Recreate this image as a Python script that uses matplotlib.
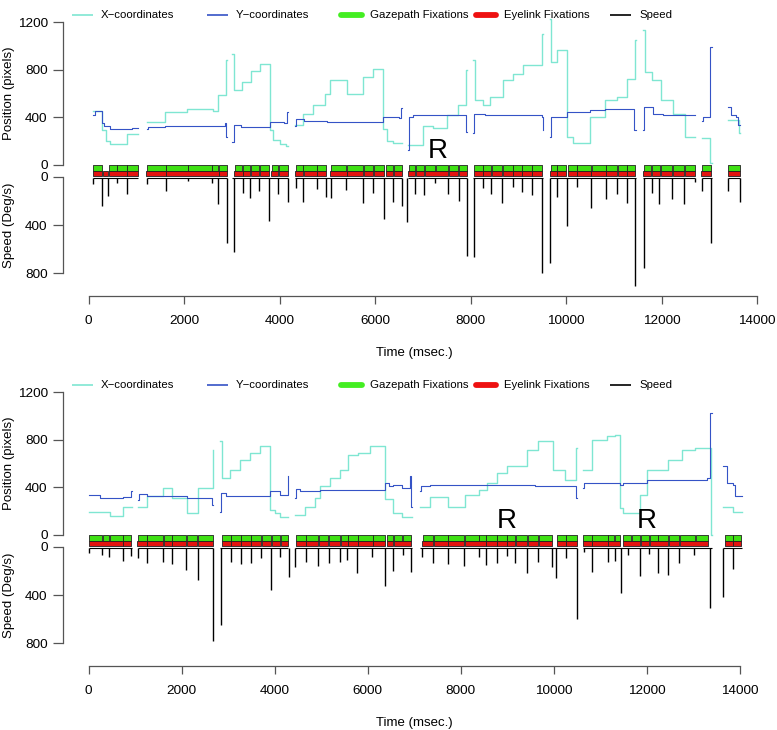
import matplotlib.pyplot as plt

plt.rcParams['font.family'] = ['Liberation Sans', 'DejaVu Sans']

CYAN = '#7fe6d2'
BLUE = '#3553c6'
GREEN = '#3fe014'
RED = '#e3140f'

time_ticks = [0, 2000, 4000, 6000, 8000, 10000, 12000, 14000]
pos_ticks = [0, 400, 800, 1200]
speed_ticks = [0, 400, 800]
legend_labels = ['X\u2212coordinates', 'Y\u2212coordinates', 'Gazepath Fixations',
                 'Eyelink Fixations', 'Speed']

# ---------------- top recording ----------------
# x-coordinate traces, one list per stretch of data: (time ms, pixels)
top_x = [
    [(97, 455), (272, 290), (370, 205), (446, 178), (795, 262), (1040, 262)],
    [(1214, 365), (1598, 445), (2052, 470), (2600, 450), (2715, 590), (2880, 880), (2900, 880)],
    [(3010, 935), (3050, 630), (3220, 700), (3390, 790), (3580, 850), (3800, 290),
     (3850, 210), (4000, 180), (4130, 160), (4180, 160)],
    [(4320, 335), (4480, 430), (4703, 500), (4948, 600), (5053, 712), (5402, 600),
     (5750, 740), (5960, 810), (6169, 300), (6240, 200), (6380, 181), (6554, 181)],
    [(6680, 167), (7007, 328), (7217, 307), (7496, 418), (7741, 502), (7905, 795), (7922, 795)],
    [(8050, 880), (8080, 544), (8264, 502), (8404, 572), (8683, 712), (8892, 767),
     (9102, 837), (9500, 1102), (9521, 1102)],
    [(9660, 1228), (9680, 866), (9800, 963), (10009, 237), (10150, 181), (10497, 404),
     (10811, 544), (11056, 572), (11266, 726), (11440, 1046), (11460, 1046)],
    [(11615, 1130), (11650, 781), (11790, 712), (11980, 544), (12240, 432), (12490, 237),
     (12697, 237)],
    [(12836, 223), (13020, 14), (13045, 14)],
    [(13394, 377), (13620, 265), (13638, 265)],
]
top_y = [
    [(97, 420), (130, 455), (272, 355), (320, 325), (450, 305), (700, 300), (900, 310), (1040, 310)],
    [(1214, 300), (1240, 321), (1600, 330), (2200, 325), (2600, 330), (2860, 350),
     (2885, 237), (2900, 237)],
    [(3010, 195), (3050, 335), (3200, 321), (3800, 363), (4100, 350), (4160, 446), (4180, 446)],
    [(4320, 330), (4340, 385), (4500, 370), (5000, 360), (5800, 360), (6169, 400),
     (6500, 396), (6540, 479), (6554, 479)],
    [(6680, 125), (6700, 404), (6800, 418), (7900, 418), (7905, 279), (7922, 279)],
    [(8050, 265), (8070, 432), (8300, 418), (9500, 404), (9505, 293), (9521, 293)],
    [(9660, 237), (9680, 404), (10009, 446), (10497, 460), (10811, 474), (11266, 474),
     (11430, 293), (11460, 293)],
    [(11615, 293), (11630, 488), (11824, 432), (12033, 418), (12697, 418)],
    [(12836, 370), (12860, 404), (13020, 991), (13045, 991)],
    [(13394, 488), (13450, 418), (13550, 404), (13600, 335), (13638, 335)],
]
top_gaze = [(97, 272), (432, 600), (600, 795), (809, 1040), (1228, 1612), (1612, 2087),
            (2087, 2590), (2590, 2715), (2729, 2889), (3064, 3204), (3224, 3378),
            (3392, 3574), (3587, 3769), (3832, 3972), (3992, 4181), (4341, 4481),
            (4495, 4774), (4788, 4962), (5067, 5388), (5402, 5751), (5765, 5960),
            (5974, 6190), (6226, 6379), (6393, 6554), (6714, 6833), (6847, 7028),
            (7042, 7252), (7266, 7531), (7545, 7740), (7754, 7915), (8075, 8250),
            (8264, 8424), (8438, 8662), (8676, 8878), (8892, 9067), (9080, 9276),
            (9290, 9499), (9674, 9799), (9813, 9988), (10044, 10218), (10232, 10511),
            (10546, 10825), (10839, 11070), (11084, 11265), (11279, 11440),
            (11628, 11775), (11789, 11963), (11977, 12221), (12235, 12473),
            (12487, 12696), (12836, 13024), (13394, 13638)]
top_eyelink = [(97, 272), (307, 412), (432, 795), (809, 1040), (1193, 1612), (1626, 2729),
               (2729, 2889), (3050, 3224), (3238, 3378), (3392, 3574), (3587, 3769),
               (3818, 3972), (3992, 4181), (4320, 4495), (4509, 4774), (4788, 4962),
               (5053, 5402), (5402, 5751), (5765, 5960), (5974, 6190), (6226, 6379),
               (6393, 6554), (6693, 6833), (6847, 7028), (7042, 7531), (7545, 7740),
               (7754, 7915), (8075, 8250), (8264, 8424), (8438, 8662), (8676, 8878),
               (8892, 9067), (9080, 9276), (9290, 9499), (9660, 9799), (9813, 9988),
               (10044, 10218), (10232, 10511), (10525, 10825), (10839, 11070),
               (11084, 11265), (11279, 11440), (11615, 11775), (11789, 11963),
               (11977, 12221), (12235, 12473), (12487, 12696), (12815, 13024),
               (13380, 13638)]
top_spikes = [(97, 61), (279, 242), (410, 160), (585, 55), (810, 143), (1214, 60),
              (1611, 116), (2087, 33), (2576, 55), (2715, 229), (2903, 547), (3042, 621),
              (3224, 138), (3378, 174), (3573, 116), (3782, 367), (3957, 146), (4180, 212),
              (4334, 91), (4494, 207), (4773, 102), (4969, 171), (5074, 180), (5388, 110),
              (5750, 220), (5960, 132), (6190, 353), (6379, 212), (6554, 240), (6672, 372),
              (6833, 146), (7021, 152), (7252, 55), (7531, 146), (7754, 198), (7922, 657),
              (8069, 668), (8264, 96), (8425, 143), (8662, 220), (8892, 83), (9067, 130),
              (9290, 152), (9500, 795), (9660, 712), (9800, 166), (10009, 406),
              (10218, 83), (10511, 262), (10825, 188), (11070, 143), (11266, 220),
              (11447, 905), (11629, 753), (11789, 132), (11950, 229), (12222, 188),
              (12473, 226), (12697, 47), (12836, 119), (13024, 552), (13380, 116),
              (13638, 212)]
top_r_marks = [7300]

# ---------------- bottom recording ----------------
bot_x = [
    [(0, 189), (458, 161), (745, 239), (924, 239)],
    [(1068, 239), (1247, 330), (1605, 394), (1785, 309), (2107, 183), (2358, 394),
     (2666, 717), (2681, 717)],
    [(2824, 788), (2860, 478), (3039, 549), (3254, 633), (3469, 689), (3684, 745),
     (3899, 211), (4000, 183), (4115, 155), (4294, 155)],
    [(4437, 169), (4652, 239), (4868, 309), (4975, 408), (5190, 478), (5405, 549),
     (5585, 675), (5800, 689), (6051, 745), (6374, 300), (6553, 183), (6732, 155), (6947, 155)],
    [(7126, 239), (7340, 323), (7736, 234), (8094, 337), (8400, 380), (8560, 436),
     (8775, 520), (8991, 577), (9421, 717), (9672, 788), (9994, 549), (10245, 464),
     (10480, 731), (10496, 731)],
    [(10640, 549), (10819, 802), (11142, 830), (11321, 844), (11420, 225), (11500, 183),
     (11859, 337), (12000, 549), (12468, 633), (12755, 717), (13042, 731), (13379, 4),
     (13400, 4)],
    [(13651, 239), (13866, 197), (14045, 197)],
]
bot_y = [
    [(0, 337), (243, 309), (745, 323), (900, 366), (924, 366)],
    [(1068, 295), (1090, 344), (1247, 330), (2107, 309), (2660, 253), (2681, 253)],
    [(2824, 197), (2850, 352), (2950, 330), (3899, 366), (4115, 337), (4280, 492), (4294, 492)],
    [(4437, 309), (4460, 387), (4540, 366), (4975, 380), (6374, 433), (6450, 408),
     (6553, 422), (6732, 394), (6920, 492), (6935, 239), (6947, 239)],
    [(7126, 366), (7150, 408), (7340, 422), (9600, 408), (10480, 394), (10490, 309), (10496, 309)],
    [(10640, 394), (10660, 436), (11428, 422), (11500, 436), (12000, 464), (13300, 478),
     (13370, 1027), (13400, 1027)],
    [(13651, 577), (13720, 436), (13866, 422), (13900, 330), (14045, 330)],
]
bot_gaze = [(13, 279), (315, 444), (458, 731), (745, 910), (1068, 1247), (1261, 1605),
            (1620, 1785), (1799, 2093), (2107, 2337), (2358, 2666), (2860, 3054),
            (3068, 3269), (3283, 3484), (3498, 3706), (3720, 3914), (3950, 4115),
            (4129, 4294), (4459, 4667), (4681, 4939), (4954, 5154), (5169, 5405),
            (5420, 5570), (5585, 5786), (5800, 6108), (6122, 6374), (6409, 6553),
            (6567, 6732), (6754, 6933), (7184, 7413), (7428, 7722), (7736, 8073),
            (8094, 8388), (8403, 8539), (8553, 8775), (8790, 8991), (9005, 9170),
            (9184, 9435), (9457, 9672), (9686, 9973), (10066, 10260), (10274, 10496),
            (10640, 10819), (10833, 11163), (11177, 11306), (11321, 11428), (11500, 11658),
            (11679, 11859), (11873, 12052), (12066, 12239), (12253, 12468), (12483, 12697),
            (12712, 13042), (13056, 13328), (13687, 13852), (13866, 14031)]
bot_eyelink = [(13, 731), (745, 910), (1040, 1247), (1261, 1605), (1620, 1785),
               (1799, 2093), (2107, 2337), (2358, 2666), (2860, 3054), (3068, 3269),
               (3283, 3484), (3498, 3706), (3720, 3914), (3950, 4115), (4129, 4294),
               (4459, 4667), (4681, 4939), (4954, 5154), (5169, 5405), (5420, 5570),
               (5585, 5786), (5800, 6108), (6122, 6374), (6409, 6553), (6567, 6933),
               (7162, 7413), (7428, 7722), (7736, 8073), (8094, 8539), (8553, 8775),
               (8790, 8991), (9005, 9170), (9184, 9435), (9457, 9672), (9686, 9973),
               (10066, 10260), (10274, 10496), (10640, 10819), (10833, 11163),
               (11177, 11428), (11500, 11859), (11873, 12052), (12066, 12468),
               (12483, 12697), (12712, 13328), (13687, 13852), (13866, 14031)]
bot_spikes = [(13, 50), (279, 69), (444, 83), (745, 119), (910, 77), (1068, 96), (1247, 138),
              (1605, 124), (1785, 146), (2093, 193), (2344, 276), (2681, 781), (2839, 648),
              (3061, 124), (3269, 146), (3484, 132), (3706, 96), (3921, 359), (4115, 83),
              (4301, 248), (4437, 166), (4667, 124), (4939, 160), (5169, 138), (5405, 124),
              (5563, 110), (5764, 215), (6101, 83), (6374, 326), (6553, 198), (6754, 69),
              (6933, 212), (7162, 83), (7413, 132), (7722, 146), (8073, 157), (8388, 83),
              (8539, 152), (8775, 138), (8991, 77), (9170, 138), (9435, 221), (9672, 124),
              (9973, 166), (10052, 262), (10260, 96), (10496, 601), (10654, 40),
              (10819, 212), (11163, 130), (11321, 116), (11450, 386), (11608, 69),
              (11859, 243), (12052, 61), (12239, 215), (12454, 234), (12697, 138),
              (13027, 69), (13364, 510), (13651, 414), (13852, 188)]
bot_r_marks = [9000, 12000]

fig = plt.figure(figsize=(7.77, 7.30), dpi=100)
W, H = 777, 730
AX_COL = '#555555'


def draw_panel(top_px, xlim, xs, ys, gaze, eyelink, spikes, r_marks):
    rect = [63 / W, 1 - (top_px + 285.7) / H, 703 / W, 285.7 / H]
    ax = fig.add_axes(rect)
    ax.set_xlim(xlim)
    ax.set_ylim(-1098, 1302)

    for seg in xs:
        t, v = zip(*seg)
        ax.plot(t, v, color=CYAN, lw=1.0, drawstyle='steps-post')
    for seg in ys:
        t, v = zip(*seg)
        ax.plot(t, v, color=BLUE, lw=0.8, drawstyle='steps-post')

    ax.broken_barh([(a, b - a) for a, b in gaze], (-47, 47), facecolors=GREEN,
                   edgecolors='#222222', linewidth=0.6)
    ax.broken_barh([(a, b - a) for a, b in eyelink], (-96, 44), facecolors=RED,
                   edgecolors='#222222', linewidth=0.6)

    for t in r_marks:
        ax.text(t, 59, 'R', fontsize=20, ha='center', va='baseline')

    # axes styling (R-like)
    for s in ['top', 'right']:
        ax.spines[s].set_visible(False)
    ax.spines['left'].set_bounds(0, 1200)
    ax.spines['bottom'].set_bounds(0, 14000)
    for s in ['left', 'bottom']:
        ax.spines[s].set_color(AX_COL)
        ax.spines[s].set_linewidth(0.9)
    ax.set_xticks(time_ticks)
    ax.set_yticks(pos_ticks)
    ax.tick_params(axis='y', length=7, pad=4, labelsize=9.7, color=AX_COL, width=0.9)
    ax.tick_params(axis='x', length=6, pad=8, labelsize=9.7, color=AX_COL, width=0.9)
    ax.set_xlabel('Time (msec.)', fontsize=9.5)
    ax.xaxis.set_label_coords(0.5, -0.18)
    ax.set_ylabel('Position (pixels)', fontsize=9.5)
    ax.yaxis.set_label_coords(-0.068, 600, transform=ax.get_yaxis_transform())

    # speed axis overlaid on the same region, zero just below the fixation bars
    sp = fig.add_axes(rect, sharex=ax)
    sp.patch.set_visible(False)
    sp.set_ylim(985, -1380)
    for seg in xs:
        sp.hlines(10, seg[0][0], seg[-1][0], color='black', lw=0.8)
    t, v = zip(*spikes)
    sp.vlines(t, 10, v, color='black', lw=1.0)
    for s in ['top', 'right', 'bottom']:
        sp.spines[s].set_visible(False)
    sp.spines['left'].set_bounds(0, 800)
    sp.spines['left'].set_color(AX_COL)
    sp.spines['left'].set_linewidth(0.9)
    sp.set_yticks(speed_ticks)
    sp.tick_params(axis='y', length=7, pad=4, labelsize=9.7, color=AX_COL, width=0.9)
    sp.tick_params(axis='x', bottom=False, labelbottom=False)
    sp.set_ylabel('Speed (Deg/s)', fontsize=9.5)
    sp.yaxis.set_label_coords(-0.068, 400, transform=sp.get_yaxis_transform())

    # horizontal legend across the top
    styles = [(CYAN, 1.2, 'butt'), (BLUE, 1.2, 'butt'), ('#44ee22', 4.2, 'round'),
              ('#ee1111', 4.2, 'round'), ('black', 1.2, 'butt')]
    ly = 1 - 4.5 / 285.7
    for i, (label, (col, lw, cap)) in enumerate(zip(legend_labels, styles)):
        x0 = (72 + 134.5 * i - 63) / 703
        ax.plot([x0, x0 + 21 / 703], [ly, ly], transform=ax.transAxes, color=col,
                lw=lw, solid_capstyle=cap, clip_on=False)
        ax.text(x0 + 29 / 703, ly, label, transform=ax.transAxes, fontsize=8.2,
                va='center', ha='left')
    return ax


draw_panel(10, (-538, 14184), top_x, top_y, top_gaze, top_eyelink, top_spikes, top_r_marks)
draw_panel(380, (-553, 14569), bot_x, bot_y, bot_gaze, bot_eyelink, bot_spikes, bot_r_marks)

fig.savefig('out.png', dpi=100)
